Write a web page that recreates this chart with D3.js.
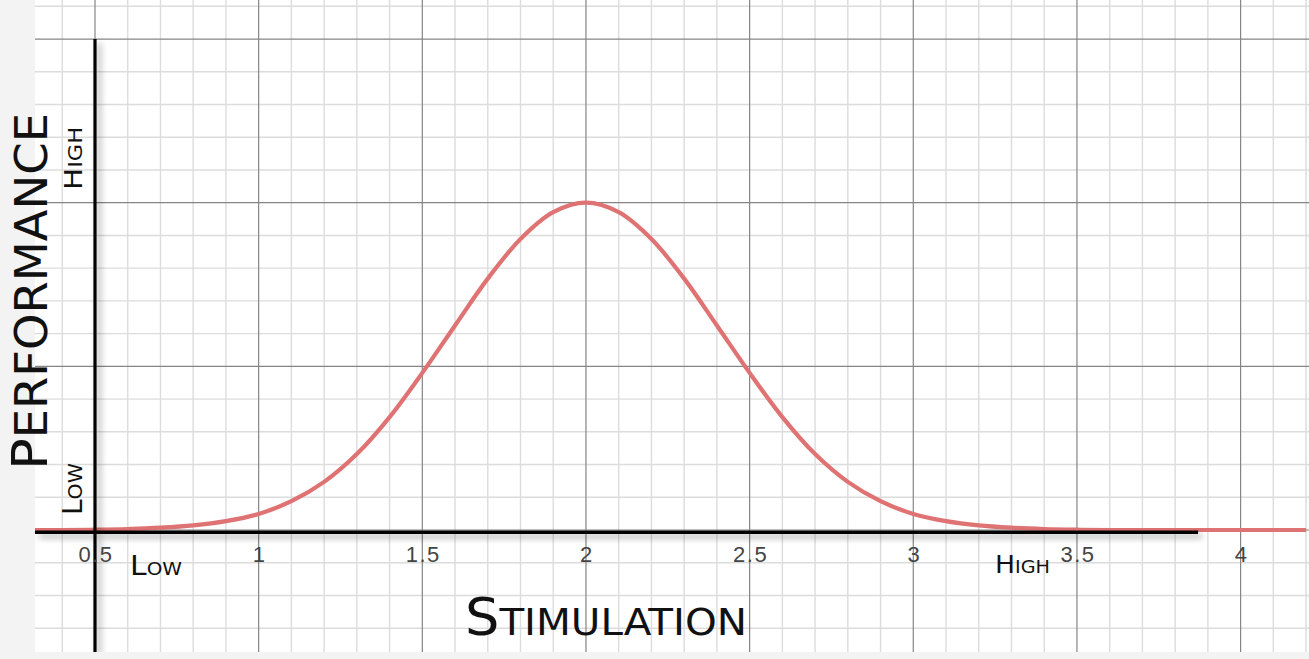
<!DOCTYPE html>
<html>
<head>
<meta charset="utf-8">
<script src="https://cdn.jsdelivr.net/npm/d3@7"></script>
<style>
  html, body { margin: 0; padding: 0; background: #f3f3f3; }
  svg { display: block; }
  .hand { font-family: "DejaVu Sans", "Noto Sans", sans-serif; fill: #111; }
  .tick { font-family: "Liberation Sans", Arial, sans-serif; font-size: 22px; fill: #444; letter-spacing: 1.5px; }
</style>
</head>
<body>
<svg id="chart" width="1309" height="659"></svg>
<script>
// ---- data ----
const stimulation = [0.3, 0.4, 0.5, 0.6, 0.7, 0.8, 0.9, 1.0, 1.1, 1.2, 1.3, 1.4, 1.5, 1.6, 1.7, 1.8, 1.9, 2.0,
                     2.1, 2.2, 2.3, 2.4, 2.5, 2.6, 2.7, 2.8, 2.9, 3.0, 3.1, 3.2, 3.3, 3.4, 3.5, 3.6, 3.7, 3.8, 3.9, 4.0, 4.1, 4.2];
const performance = [0, 0, 0.001, 0.003, 0.007, 0.014, 0.027, 0.049, 0.088, 0.147, 0.232, 0.345, 0.480, 0.625, 0.768, 0.889, 0.971, 1.0,
                     0.971, 0.889, 0.768, 0.625, 0.480, 0.345, 0.232, 0.147, 0.088, 0.049, 0.027, 0.014, 0.007, 0.003, 0.001, 0, 0, 0, 0, 0, 0, 0];
const tickValues = [0.5, 1, 1.5, 2, 2.5, 3, 3.5, 4];
const tickLabels = ["0.5", "1", "1.5", "2", "2.5", "3", "3.5", "4"];
const xTitle = "Stimulation";
const yTitle = "Performance";
const levelLabels = ["Low", "High"];

// ---- layout ----
const svg = d3.select("#chart");
const paper = { x0: 35, y0: 0, x1: 1309, y1: 652 };
const x = d3.scaleLinear().domain([0.5, 4]).range([95, 1240.6]);
const y = d3.scaleLinear().domain([0, 1]).range([530, 202.7]);

const defs = svg.append("defs");
defs.append("clipPath").attr("id", "paperClip")
  .append("rect").attr("x", paper.x0).attr("y", paper.y0)
  .attr("width", paper.x1 - paper.x0).attr("height", paper.y1 - paper.y0);
const f = defs.append("filter").attr("id", "shadow")
  .attr("x", "-20%").attr("y", "-20%").attr("width", "140%").attr("height", "160%");
f.append("feDropShadow").attr("dx", 4).attr("dy", 4).attr("stdDeviation", 3)
  .attr("flood-color", "#000").attr("flood-opacity", 0.35);

// paper
svg.append("rect").attr("x", paper.x0).attr("y", paper.y0)
  .attr("width", paper.x1 - paper.x0).attr("height", paper.y1 - paper.y0)
  .attr("fill", "#ffffff");

const g = svg.append("g").attr("clip-path", "url(#paperClip)");

const xLo = x.invert(paper.x0), xHi = x.invert(paper.x1);
const yLo = y.invert(paper.y1), yHi = y.invert(paper.y0);
const minorX = d3.range(Math.ceil(xLo * 10), Math.floor(xHi * 10) + 1).map(i => i / 10);
const minorY = d3.range(Math.ceil(yLo * 10), Math.floor(yHi * 10) + 1).map(i => i / 10);
const isMajor = v => Math.abs(v * 2 - Math.round(v * 2)) < 1e-6;

// minor grid
g.selectAll("line.minx").data(minorX.filter(v => !isMajor(v))).join("line")
  .attr("x1", d => x(d)).attr("x2", d => x(d)).attr("y1", paper.y0).attr("y2", paper.y1)
  .attr("stroke", "#dcdcdc").attr("stroke-width", 1.4);
g.selectAll("line.miny").data(minorY.filter(v => !isMajor(v))).join("line")
  .attr("y1", d => y(d)).attr("y2", d => y(d)).attr("x1", paper.x0).attr("x2", paper.x1)
  .attr("stroke", "#dcdcdc").attr("stroke-width", 1.4);
// major grid
g.selectAll("line.majx").data(minorX.filter(isMajor)).join("line")
  .attr("x1", d => x(d)).attr("x2", d => x(d)).attr("y1", paper.y0).attr("y2", paper.y1)
  .attr("stroke", "#858585").attr("stroke-width", 1.2);
g.selectAll("line.majy").data(minorY.filter(isMajor)).join("line")
  .attr("y1", d => y(d)).attr("y2", d => y(d)).attr("x1", paper.x0).attr("x2", paper.x1)
  .attr("stroke", "#858585").attr("stroke-width", 1.2);

// curve
const pts = stimulation.map((s, i) => [s, performance[i]]);
const line = d3.line().x(d => x(d[0])).y(d => y(d[1])).curve(d3.curveCatmullRom.alpha(0.5));
g.append("path").datum(pts).attr("d", line)
  .attr("fill", "none").attr("stroke", "#df7272").attr("stroke-width", 4.2)
  .attr("stroke-linejoin", "round");

// axes (hand drawn lines with shadow)
const axes = g.append("g").attr("filter", "url(#shadow)");
axes.append("line").attr("x1", x(0.5)).attr("x2", x(0.5))
  .attr("y1", y(1.5)).attr("y2", paper.y1)
  .attr("stroke", "#000").attr("stroke-width", 3.2);
axes.append("line").attr("x1", paper.x0).attr("x2", x(3.87))
  .attr("y1", y(0) + 2.2).attr("y2", y(0) + 2.2)
  .attr("stroke", "#000").attr("stroke-width", 3.4);

// tick labels
svg.selectAll("text.tick").data(tickValues).join("text")
  .attr("class", "tick").attr("x", d => x(d) + 1).attr("y", 562)
  .attr("text-anchor", "middle")
  .text((d, i) => tickLabels[i]);

// hand-lettered labels: first letter big, rest as smaller capitals
function hand(parent, text, bigSize, smallSize, length, transform) {
  const t = parent.append("text").attr("class", "hand").attr("transform", transform)
    .attr("textLength", length).attr("lengthAdjust", "spacingAndGlyphs");
  t.append("tspan").style("font-size", bigSize + "px").text(text[0]);
  t.append("tspan").style("font-size", smallSize + "px").style("text-transform", "uppercase").text(text.slice(1));
  return t;
}
hand(svg, xTitle, 51, 38, 282, "translate(465,635)");
hand(svg, yTitle, 50, 44, 357, "translate(47,470) rotate(-90)");
hand(svg, levelLabels[0], 27, 18, 52, "translate(130,575)");
hand(svg, levelLabels[1], 25, 18, 55, "translate(995,573)");
hand(svg, levelLabels[0], 26, 19, 52, "translate(82,515) rotate(-90)");
hand(svg, levelLabels[1], 25, 19, 63, "translate(82,190) rotate(-90)");
</script>
</body>
</html>
